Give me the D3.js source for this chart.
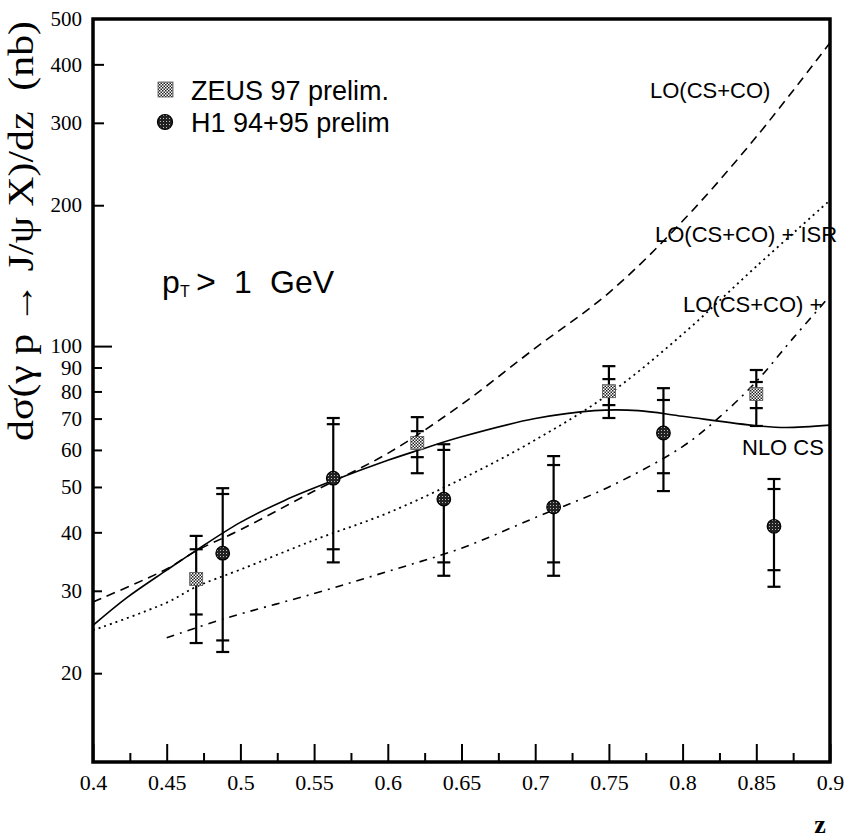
<!DOCTYPE html>
<html>
<head>
<meta charset="utf-8">
<script src="https://cdn.jsdelivr.net/npm/d3@7"></script>
<style>
  body { margin: 0; background: #fff; }
  svg { display: block; }
</style>
</head>
<body>
<script>
// z ticks on the bottom axis
var majorTicks = [0.4, 0.45, 0.5, 0.55, 0.6, 0.65, 0.7, 0.75, 0.8, 0.85, 0.9];
var minorTicks = [0.425, 0.475, 0.525, 0.575, 0.625, 0.675, 0.725, 0.775, 0.825, 0.875];
var yTicks = [20, 30, 40, 50, 60, 70, 80, 90, 100, 200, 300, 400, 500];

// ZEUS 97 prelim. (value, inner = stat, outer = total)
var zeusZ = [0.47, 0.62, 0.75, 0.85];
var zeusVal = [31.8, 62.1, 80.1, 79];
var zeusInHi = [36.8, 65.8, 85, 83.8];
var zeusInLo = [26.7, 57.9, 74.8, 73.7];
var zeusOutHi = [39.3, 70.5, 90.6, 88.9];
var zeusOutLo = [23.2, 53.5, 70.2, 67.5];

// H1 94+95 prelim
var h1Z = [0.488, 0.563, 0.638, 0.7125, 0.787, 0.862];
var h1Val = [36.1, 52.2, 47.1, 45.3, 65.2, 41.2];
var h1InHi = [48.3, 68.1, 60, 55.7, 76.7, 49.5];
var h1InLo = [23.5, 36.8, 34.5, 34.5, 53.5, 33.2];
var h1OutHi = [49.7, 70.2, 61.7, 58.2, 81.3, 52];
var h1OutLo = [22.2, 34.5, 32.3, 32.3, 49, 30.6];

// theory curves
var nloZ = [0.40, 0.423, 0.45, 0.47, 0.50, 0.53, 0.563, 0.60, 0.62, 0.65, 0.70, 0.74, 0.77, 0.80, 0.85, 0.87, 0.90];
var nloVal = [25.3, 29.0, 33.2, 36.6, 42.0, 46.8, 51.6, 57.0, 59.8, 64.0, 70.0, 72.8, 72.8, 70.8, 67.6, 67.0, 67.8];

var loZ = [0.40, 0.45, 0.47, 0.50, 0.55, 0.60, 0.65, 0.70, 0.75, 0.80, 0.85, 0.90];
var loVal = [28.4, 33.4, 36.5, 40.5, 49.0, 59.0, 75.0, 99, 130, 185, 280, 445];

var isrZ = [0.40, 0.45, 0.47, 0.50, 0.55, 0.60, 0.65, 0.70, 0.75, 0.80, 0.85, 0.90];
var isrVal = [24.7, 28.3, 30.6, 33.3, 38.5, 44.0, 52.0, 63.0, 79.0, 106, 148, 205];

var ddZ = [0.45, 0.49, 0.55, 0.60, 0.65, 0.70, 0.75, 0.80, 0.825, 0.85, 0.875, 0.90];
var ddVal = [23.8, 26.2, 29.6, 33.0, 37.0, 43.0, 50.0, 61.0, 70.5, 84.0, 104, 128];

var W = 844, H = 839;
var plot = { left: 93, right: 830, top: 19, bottom: 762 };
var serif = "'Liberation Serif', 'Times New Roman', serif";
var sans = "'Liberation Sans', Arial, Helvetica, sans-serif";

var svg = d3.select("body").append("svg")
  .attr("width", W)
  .attr("height", H);

var defs = svg.append("defs");
var pz = defs.append("pattern").attr("id", "checker")
  .attr("width", 3).attr("height", 3).attr("patternUnits", "userSpaceOnUse");
pz.append("rect").attr("width", 3).attr("height", 3).attr("fill", "#fff");
pz.append("rect").attr("width", 1.5).attr("height", 1.5).attr("fill", "#222");
pz.append("rect").attr("x", 1.5).attr("y", 1.5).attr("width", 1.5).attr("height", 1.5).attr("fill", "#222");

var ph = defs.append("pattern").attr("id", "dots")
  .attr("width", 3).attr("height", 3).attr("patternUnits", "userSpaceOnUse");
ph.append("rect").attr("width", 3).attr("height", 3).attr("fill", "#222");
ph.append("rect").attr("x", 1).attr("y", 1).attr("width", 1).attr("height", 1).attr("fill", "#bbb");

var x = d3.scaleLinear().domain([0.4, 0.9]).range([plot.left, plot.right]);
var y = d3.scaleLog().domain([12.92, 500]).range([plot.bottom, plot.top]);

// bottom axis, ticks pointing inward
svg.append("g")
  .attr("transform", "translate(0," + plot.bottom + ")")
  .call(d3.axisBottom(x).tickValues(majorTicks).tickSize(-18).tickPadding(12)
    .tickFormat(function(d) { return String(+d.toFixed(2)); }))
  .call(function(g) {
    g.attr("font-family", serif).attr("font-size", 22);
    g.select(".domain").remove();
    g.selectAll("line").attr("stroke-width", 2);
    g.selectAll("text").attr("fill", "#000");
  });

svg.append("g")
  .attr("transform", "translate(0," + plot.bottom + ")")
  .call(d3.axisBottom(x).tickValues(minorTicks).tickSize(-9).tickFormat(""))
  .call(function(g) {
    g.select(".domain").remove();
    g.selectAll("line").attr("stroke-width", 2);
  });

// left axis
svg.append("g")
  .attr("transform", "translate(" + plot.left + ",0)")
  .call(d3.axisLeft(y).tickValues(yTicks).tickSize(-9).tickPadding(11)
    .tickFormat(d3.format("d")))
  .call(function(g) {
    g.attr("font-family", serif).attr("font-size", 21);
    g.select(".domain").remove();
    g.selectAll(".tick line")
      .attr("stroke-width", 2)
      .attr("x2", function(d) { return d === 100 ? 19 : (d > 100 ? 11 : 9); })
      .attr("display", function(d) { return d === 500 ? "none" : null; });
    g.selectAll("text").attr("fill", "#000");
  });

// frame
svg.append("rect")
  .attr("x", plot.left).attr("y", plot.top)
  .attr("width", plot.right - plot.left).attr("height", plot.bottom - plot.top)
  .attr("fill", "none").attr("stroke", "#000").attr("stroke-width", 3.5);

// theory curves
var clip = defs.append("clipPath").attr("id", "plotclip");
clip.append("rect").attr("x", plot.left).attr("y", plot.top)
  .attr("width", plot.right - plot.left).attr("height", plot.bottom - plot.top);

function curve(zs, vs, dash, width) {
  var pts = zs.map(function(z, i) { return [z, vs[i]]; });
  svg.append("path")
    .datum(pts)
    .attr("clip-path", "url(#plotclip)")
    .attr("d", d3.line()
      .x(function(d) { return x(d[0]); })
      .y(function(d) { return y(d[1]); })
      .curve(d3.curveCatmullRom))
    .attr("fill", "none")
    .attr("stroke", "#000")
    .attr("stroke-width", width)
    .attr("stroke-dasharray", dash);
}
curve(nloZ, nloVal, null, 1.6);
curve(loZ, loVal, "9,6", 1.6);
curve(isrZ, isrVal, "2,4", 1.8);
curve(ddZ, ddVal, "8,6,2,6", 1.6);

// error bars
function errBars(zs, inHi, inLo, outHi, outLo) {
  var g = svg.append("g").attr("stroke", "#000").attr("stroke-width", 2.2);
  zs.forEach(function(z, i) {
    var cx = x(z);
    g.append("line").attr("x1", cx).attr("x2", cx).attr("y1", y(outHi[i])).attr("y2", y(outLo[i]));
    [outHi[i], outLo[i], inHi[i], inLo[i]].forEach(function(v) {
      g.append("line").attr("x1", cx - 6.5).attr("x2", cx + 6.5).attr("y1", y(v)).attr("y2", y(v));
    });
  });
}
errBars(zeusZ, zeusInHi, zeusInLo, zeusOutHi, zeusOutLo);
errBars(h1Z, h1InHi, h1InLo, h1OutHi, h1OutLo);

// markers
svg.append("g").selectAll("rect")
  .data(zeusZ)
  .join("rect")
  .attr("x", function(d) { return x(d) - 6.5; })
  .attr("y", function(d, i) { return y(zeusVal[i]) - 6.5; })
  .attr("width", 13).attr("height", 13)
  .attr("fill", "url(#checker)")
  .attr("stroke", "#555").attr("stroke-width", 0.8);

svg.append("g").selectAll("circle")
  .data(h1Z)
  .join("circle")
  .attr("cx", function(d) { return x(d); })
  .attr("cy", function(d, i) { return y(h1Val[i]); })
  .attr("r", 6.8)
  .attr("fill", "url(#dots)")
  .attr("stroke", "#000").attr("stroke-width", 1.2);

// legend
svg.append("rect").attr("x", 158).attr("y", 82).attr("width", 15).attr("height", 15)
  .attr("fill", "url(#checker)").attr("stroke", "#555").attr("stroke-width", 0.8);
svg.append("text").attr("x", 191).attr("y", 100).attr("font-family", sans)
  .attr("font-size", 27).text("ZEUS 97 prelim.");
svg.append("circle").attr("cx", 165).attr("cy", 122).attr("r", 7.5)
  .attr("fill", "url(#dots)").attr("stroke", "#000").attr("stroke-width", 1.2);
svg.append("text").attr("x", 191).attr("y", 132).attr("font-family", sans)
  .attr("font-size", 27).text("H1 94+95 prelim");

// pT cut
var ptParts = [
  { text: "p", x: 162, dy: 0, size: 32 },
  { text: "T", x: 180, dy: 4, size: 16 },
  { text: ">", x: 196, dy: -4, size: 34 },
  { text: "1", x: 234, dy: 0, size: 32 },
  { text: "GeV", x: 270, dy: 0, size: 32 }
];
var pt = svg.append("text").attr("y", 293).attr("font-family", sans);
ptParts.forEach(function(p) {
  pt.append("tspan").attr("x", p.x).attr("dy", p.dy).attr("font-size", p.size).text(p.text);
});

// curve labels
var labels = [
  { text: "LO(CS+CO)", x: 650, y: 98 },
  { text: "LO(CS+CO) + ISR", x: 655, y: 242 },
  { text: "LO(CS+CO) +", x: 683, y: 312 },
  { text: "NLO CS", x: 742, y: 455 }
];
svg.append("g").selectAll("text")
  .data(labels)
  .join("text")
  .attr("x", function(d) { return d.x; })
  .attr("y", function(d) { return d.y; })
  .attr("font-family", sans)
  .attr("font-size", 22)
  .style("white-space", "pre")
  .text(function(d) { return d.text; });

// axis titles
svg.append("text")
  .attr("transform", "translate(33,231) rotate(-90)")
  .attr("text-anchor", "middle")
  .attr("font-family", serif)
  .attr("font-size", 36)
  .attr("textLength", 420)
  .attr("lengthAdjust", "spacingAndGlyphs")
  .style("white-space", "pre")
  .text("d\u03c3(\u03b3 p \u2192 J/\u03c8 X)/dz  (nb)");

svg.append("text")
  .attr("x", 820).attr("y", 833)
  .attr("text-anchor", "middle")
  .attr("font-family", serif)
  .attr("font-weight", "bold")
  .attr("font-size", 26)
  .text("z");
</script>
</body>
</html>
